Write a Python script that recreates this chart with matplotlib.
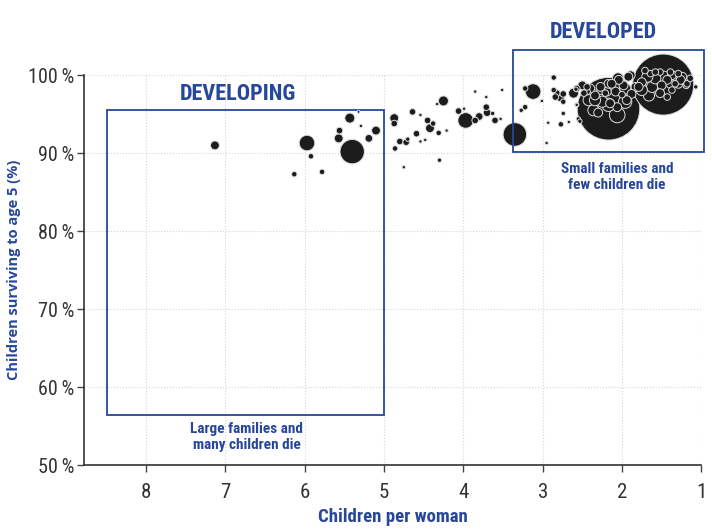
import numpy as np
import matplotlib
matplotlib.use("Agg")
import matplotlib.pyplot as plt
from matplotlib.patches import Rectangle

# children per woman, children surviving to age 5 (%), population (millions)
fertility = [7.13, 5.97, 5.92, 6.13, 5.78, 5.43, 5.32, 5.56, 5.57, 5.29,
             5.40, 5.19, 5.10, 4.87, 4.87, 4.86, 4.75, 4.80, 4.72, 4.70,
             4.64, 4.59, 4.54, 4.54, 4.48, 4.45, 4.42, 4.38, 4.31, 4.21,
             4.30, 4.25, 4.33, 3.97, 4.06, 3.99, 3.85, 3.80, 3.85, 3.71,
             3.71, 3.70, 3.63, 3.60, 3.53, 3.51, 3.35,
             3.12, 3.22, 2.86, 3.01, 3.22, 3.27, 2.93, 2.95, 2.77, 2.74,
             2.67, 2.53, 2.82, 2.84, 2.78, 2.74, 2.86, 2.74, 2.61, 2.58,
             2.57, 2.44, 2.17, 1.48,
             2.50, 2.40, 2.27, 2.17, 2.04, 1.92, 2.34, 2.21, 2.08, 1.96,
             1.83, 2.42, 2.25, 2.17, 1.96, 2.06, 2.36, 1.75, 1.68, 1.58,
             1.47, 1.37, 1.24, 1.14, 1.75, 1.62, 1.50, 1.39, 1.29, 1.18,
             1.66, 1.52, 1.37, 1.07, 1.58, 1.71, 1.29, 2.57, 2.48, 2.55,
             2.57, 2.34, 2.15, 1.94, 2.27, 2.13, 2.05, 1.89, 1.79, 1.43,
             1.26, 1.19, 1.33, 1.64, 1.52, 1.39, 1.98, 2.19, 2.44, 2.06,
             2.30, 2.00, 1.88, 1.43]
survival = [91.0, 91.3, 89.6, 87.3, 87.6, 94.5, 95.3, 92.9, 91.9, 93.5,
            90.2, 91.9, 92.9, 94.5, 93.8, 90.6, 88.2, 91.5, 91.4, 91.8,
            95.3, 92.5, 94.9, 91.5, 91.7, 94.2, 93.2, 93.8, 92.6, 92.9,
            89.1, 96.7, 96.3, 94.2, 95.4, 95.7, 94.2, 94.7, 97.9, 97.2,
            95.9, 95.2, 95.1, 94.2, 94.4, 98.1, 92.4,
            97.9, 98.3, 99.7, 96.7, 95.9, 95.5, 93.9, 91.3, 93.7, 95.1,
            94.0, 94.1, 97.7, 97.2, 97.2, 97.6, 98.1, 96.6, 97.7, 98.2,
            96.2, 98.5, 95.7, 98.8,
            98.7, 98.3, 98.5, 98.9, 99.4, 99.8, 97.4, 97.7, 97.9, 98.3,
            98.5, 96.8, 96.6, 96.2, 96.6, 94.9, 95.5, 99.1, 99.8, 99.6,
            99.8, 100.0, 99.8, 99.6, 98.1, 98.5, 98.7, 98.9, 98.9, 98.9,
            97.4, 97.7, 98.1, 98.5, 100.4, 100.6, 100.2, 98.3, 97.7, 94.4,
            96.2, 96.8, 96.4, 96.8, 98.1, 98.9, 99.6, 100.0, 98.5, 99.4,
            99.4, 98.7, 98.9, 100.2, 100.4, 100.4, 98.7, 97.9, 97.9, 95.9,
            95.2, 97.5, 97.6, 97.2]
population = [29, 90, 11, 11, 11, 37, 3, 16, 29, 4,
              220, 22, 29, 29, 16, 11, 4, 16, 16, 7,
              16, 16, 4, 4, 4, 16, 29, 11, 11, 4,
              7, 37, 4, 90, 16, 4, 16, 22, 4, 4,
              16, 22, 7, 16, 4, 4, 205,
              90, 11, 11, 4, 11, 7, 4, 4, 11, 7,
              4, 7, 16, 16, 29, 16, 11, 11, 37, 7,
              4, 16, 1450, 1380,
              29, 29, 29, 29, 29, 29, 29, 16, 29, 46,
              29, 46, 46, 66, 66, 90, 46, 29, 46, 46,
              46, 29, 29, 16, 46, 46, 29, 29, 29, 16,
              46, 29, 16, 7, 16, 16, 16, 16, 16, 7,
              7, 46, 29, 29, 29, 29, 46, 29, 29, 29,
              29, 16, 16, 16, 16, 16, 29, 29, 16, 29,
              29, 16, 29, 16]

x_ticks = [8, 7, 6, 5, 4, 3, 2, 1]
y_ticks = [50, 60, 70, 80, 90, 100]

blue = "#27479b"
cond = ["Roboto Condensed", "DejaVu Sans"]

fig = plt.figure(figsize=(7.12, 5.30), dpi=100)
ax = fig.add_axes([0.118, 0.1226, 0.867, 0.7355])

order = np.argsort(population)[::-1]
x = np.array(fertility)[order]
y = np.array(survival)[order]
s = np.array(population)[order] * 1.4
ax.scatter(x, y, s=s, color="#1c1c1c", edgecolors="#dddddd", linewidths=0.7,
           clip_on=False, zorder=3)

ax.set_xlim(8.78, 1.0)
ax.set_ylim(50, 100)
ax.set_xticks(x_ticks)
ax.set_yticks(y_ticks)
ax.set_xticklabels([str(t) for t in x_ticks], family=cond,
                   fontsize=15, color="#333333")
ax.set_yticklabels([f"{t}\u2009%" for t in y_ticks], family=cond,
                   fontsize=14.5, color="#333333")
ax.tick_params(axis="x", length=5, width=1, color="#444444", pad=8)
ax.tick_params(axis="y", length=5, width=1, color="#444444", pad=2)

ax.grid(True, linestyle=":", color="#d5d5d5", linewidth=0.8, zorder=0)
for side in ["top", "right"]:
    ax.spines[side].set_visible(False)
for side in ["left", "bottom"]:
    ax.spines[side].set_color("#333333")
    ax.spines[side].set_linewidth(1.2)

# developing / developed boxes
ax.add_patch(Rectangle((8.49, 56.4), 5.0 - 8.49, 95.5 - 56.4, fill=False,
                       edgecolor=blue, linewidth=1.3, zorder=2))
ax.add_patch(Rectangle((3.37, 90.1), 0.97 - 3.37, 103.2 - 90.1, fill=False,
                       edgecolor=blue, linewidth=1.3, zorder=4, clip_on=False))

title_kw = dict(color=blue, family=cond, fontweight="bold", ha="center", va="center")
ax.text(6.84, 97.6, "DEVELOPING", fontsize=16, **title_kw)
ax.text(2.23, 105.5, "DEVELOPED", fontsize=16, **title_kw)
ax.text(6.73, 53.6, "Large families and\nmany children die", fontsize=11,
        linespacing=1.2, **title_kw)
ax.text(2.06, 86.9, "Small families and\nfew children die", fontsize=11,
        linespacing=1.2, **title_kw)

ax.set_xlabel("Children per woman", color=blue, family=cond, fontweight="bold",
              fontsize=13.5, labelpad=4)
ax.set_ylabel("Children surviving to age 5 (%)", color=blue,
              family=["Open Sans", "DejaVu Sans"], fontstretch="semi-condensed",
              fontweight="bold", fontsize=10.5, labelpad=5)

fig.savefig("out.png", dpi=100, facecolor="white")
